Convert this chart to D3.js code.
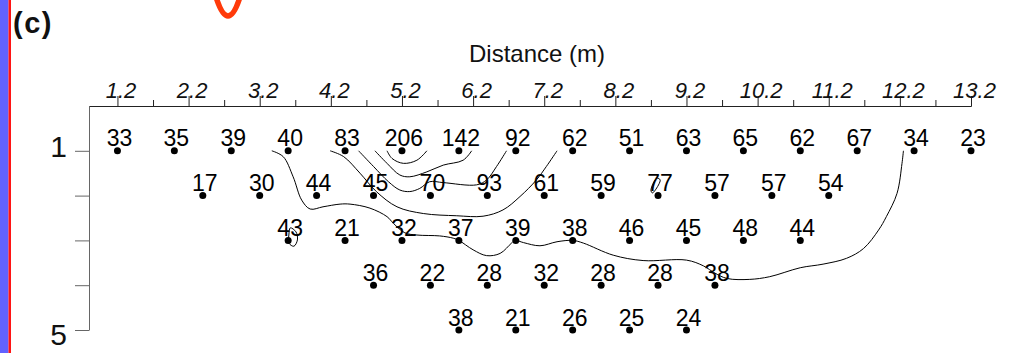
<!DOCTYPE html>
<html>
<head>
<meta charset="utf-8">
<script src="https://cdn.jsdelivr.net/npm/d3@7"></script>
<style>
  html, body { margin: 0; padding: 0; background: #fff; }
  svg { display: block; }
  text { font-family: "Liberation Sans", Arial, Helvetica, sans-serif; }
</style>
</head>
<body>
<svg id="chart" width="1014" height="353"></svg>
<script>
// Apparent resistivity pseudosection: measured values per depth level
const level1Start = 1.2, level1 = [33, 35, 39, 40, 83, 206, 142, 92, 62, 51, 63, 65, 62, 67, 34, 23];
const level2Start = 2.4, level2 = [17, 30, 44, 45, 70, 93, 61, 59, 77, 57, 57, 54];
const level3Start = 3.6, level3 = [43, 21, 32, 37, 39, 38, 46, 45, 48, 44];
const level4Start = 4.8, level4 = [36, 22, 28, 32, 28, 28, 38];
const level5Start = 6.0, level5 = [38, 21, 26, 25, 24];
const electrodeSpacing = 0.8;

// Axis ticks
const majorTicks = [1.2, 2.2, 3.2, 4.2, 5.2, 6.2, 7.2, 8.2, 9.2, 10.2, 11.2, 12.2, 13.2];
const minorTicks = [1.7, 2.7, 3.7, 4.7, 5.7, 6.7, 7.7, 8.7, 9.7, 10.7, 11.7, 12.7];
const depthTicks = [1, 2, 3, 4, 5];
const depthLabels = [1, 5];

// Contour lines, [distance (m), depth level]
const contourA = [[3.37,1.0],[3.53,1.13],[3.67,1.58],[3.79,2.10],[3.91,2.30],[4.09,2.25],[4.33,2.19],[4.47,2.19],
  [4.75,2.28],[4.99,2.47],[5.08,2.62],[5.24,2.83],[5.41,2.88],[5.73,2.90],[5.92,2.95],[6.0,3.0],[6.20,3.21],
  [6.39,3.34],[6.58,3.29],[6.74,3.06],[6.79,3.0],[6.91,3.05],[7.14,3.12],[7.38,3.03],[7.6,3.0],[7.75,3.06],
  [8.17,3.33],[8.59,3.45],[9.20,3.44],[9.44,3.57],[9.60,3.73],[9.77,3.85],[10.09,3.87],[10.37,3.81],
  [10.80,3.61],[11.12,3.53],[11.45,3.40],[11.69,3.18],[11.90,2.77],[12.01,2.47],[12.16,1.95],[12.23,1.28],[12.25,1.0]];
const contourB = [[4.19,1.0],[4.38,1.13],[4.61,1.50],[4.84,1.91],[5.13,2.25],[5.50,2.40],[5.97,2.45],[6.34,2.46],
  [6.62,2.32],[6.86,2.02],[7.09,1.65],[7.23,1.35],[7.38,1.0]];
const contourC = [[4.59,1.0],[4.80,1.35],[5.01,1.69],[5.17,1.875],[5.31,1.91],[5.45,1.84],[5.59,1.69],[5.78,1.71],
  [6.25,1.76],[6.39,1.65],[6.53,1.35],[6.67,1.0]];
const contourD = [[4.82,1.0],[4.99,1.28],[5.17,1.54],[5.31,1.58],[5.55,1.47],[5.78,1.32],[6.06,1.21],[6.18,1.0]];
const contourE = [[4.99,1.0],[5.06,1.17],[5.22,1.28],[5.41,1.21],[5.55,1.0]];
const loopNear43 = [[3.63,2.72],[3.71,2.81],[3.73,2.99],[3.68,3.13],[3.61,3.06],[3.61,2.88]];
const loopNear77 = [[8.79,1.61],[8.83,1.65],[8.76,1.88],[8.72,1.94],[8.70,1.88],[8.76,1.65]];

const svg = d3.select("#chart");

const x = d3.scaleLinear().domain([0.8, 13.2]).range([89, 971]);
const y = d3.scaleLinear().domain([0, 5]).range([106, 330]);

// Side strip and panel marker
svg.append("rect").attr("x", 0).attr("y", 0).attr("width", 8.5).attr("height", 353).attr("fill", "#6262ff");
svg.append("rect").attr("x", 8.5).attr("y", 0).attr("width", 2.5).attr("height", 353).attr("fill", "#ff1414");
svg.append("path").attr("d", "M216,-3 Q228,35 240,-3")
  .attr("fill", "none").attr("stroke", "#ff3a0a").attr("stroke-width", 5.5).attr("stroke-linecap", "round");
svg.append("text").attr("x", 13).attr("y", 33).attr("font-size", 29).attr("font-weight", "bold")
  .attr("letter-spacing", 1.5).attr("fill", "#111").text("(c)");

// Top distance axis: minor ticks, then labelled major ticks
svg.append("g").attr("transform", `translate(0,${y(0)})`)
  .call(d3.axisTop(x).tickValues(minorTicks).tickSize(6).tickSizeOuter(0).tickFormat(""))
  .call(g => g.selectAll("line,path").attr("stroke", "#222"));

const topAxis = svg.append("g").attr("transform", `translate(0,${y(0)})`)
  .call(d3.axisTop(x).tickValues(majorTicks).tickSize(10).tickSizeOuter(0).tickFormat(d3.format(".1f")));
topAxis.selectAll("line,path").attr("stroke", "#222");
topAxis.selectAll("text")
  .attr("y", -8).attr("dy", 0).attr("dx", 3)
  .attr("font-size", 22).attr("font-style", "italic").attr("fill", "#111")
  .attr("font-family", "'Liberation Sans', Arial, sans-serif");

svg.append("text").attr("x", 537).attr("y", 62).attr("text-anchor", "middle")
  .attr("font-size", 24).attr("fill", "#111").text("Distance (m)");

// Left depth axis
const leftAxis = svg.append("g").attr("transform", `translate(${x(0.8)},0)`)
  .call(d3.axisLeft(y).tickValues(depthTicks).tickSize(14).tickSizeOuter(0).tickFormat(""));
leftAxis.selectAll("line,path").attr("stroke", "#666");

svg.selectAll("text.depth").data(depthLabels).join("text")
  .attr("class", "depth")
  .attr("x", 67)
  .attr("y", d => y(d) + (d === 1 ? 6 : 15))
  .attr("text-anchor", "end").attr("font-size", 30).attr("fill", "#111")
  .text(d => d);

// Contour lines
const line = d3.line().x(d => x(d[0])).y(d => y(d[1])).curve(d3.curveCatmullRom.alpha(0.5));
const loop = d3.line().x(d => x(d[0])).y(d => y(d[1])).curve(d3.curveCatmullRomClosed.alpha(0.5));
svg.append("g").attr("fill", "none").attr("stroke", "#000").attr("stroke-width", 1)
  .selectAll("path")
  .data([contourA, contourB, contourC, contourD, contourE])
  .join("path").attr("d", line);
svg.append("g").attr("fill", "none").attr("stroke", "#000").attr("stroke-width", 1)
  .selectAll("path")
  .data([loopNear43, loopNear77])
  .join("path").attr("d", loop);

// Measurement points with values
const levels = [
  { depth: 1, start: level1Start, values: level1 },
  { depth: 2, start: level2Start, values: level2 },
  { depth: 3, start: level3Start, values: level3 },
  { depth: 4, start: level4Start, values: level4 },
  { depth: 5, start: level5Start, values: level5 }
];
const points = levels.flatMap(l => l.values.map((v, i) => ({
  dist: +(l.start + i * electrodeSpacing).toFixed(2), depth: l.depth, value: v
})));

const pts = svg.append("g");
pts.selectAll("circle").data(points).join("circle")
  .attr("cx", d => x(d.dist)).attr("cy", d => y(d.depth)).attr("r", 3.5).attr("fill", "#000");
pts.selectAll("text").data(points).join("text")
  .attr("x", d => x(d.dist) + 2).attr("y", d => y(d.depth) - 4.5)
  .attr("text-anchor", "middle").attr("font-size", 23).attr("fill", "#000")
  .text(d => d.value);
</script>
</body>
</html>
